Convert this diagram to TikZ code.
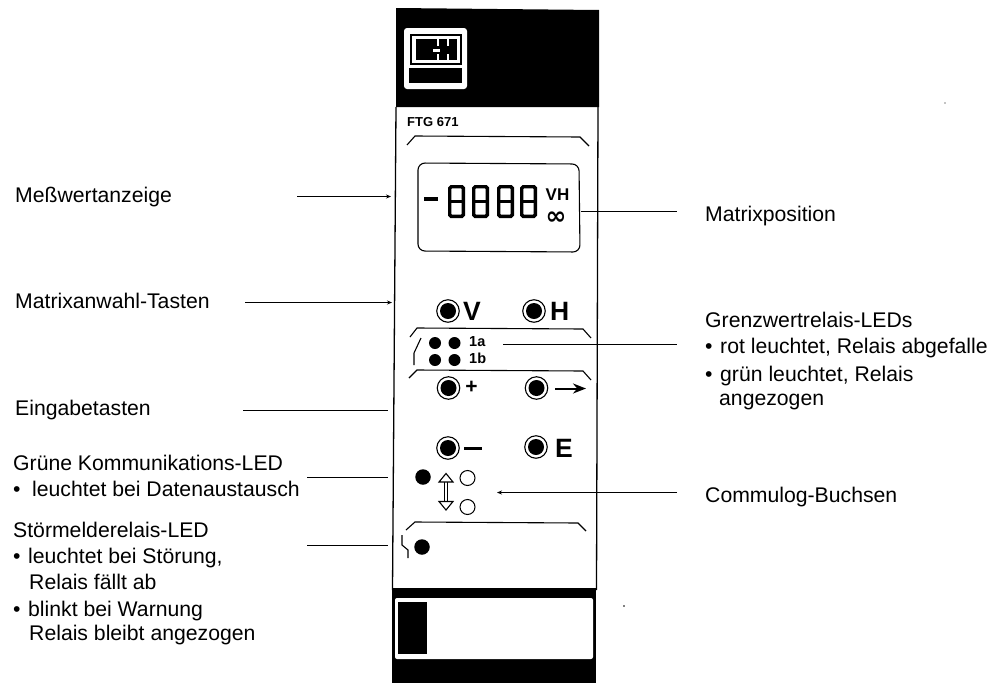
\documentclass[tikz,border=0pt]{standalone}
\usepackage{fontspec}
\setmainfont{Liberation Sans}
\usetikzlibrary{arrows.meta}
\newcommand{\bul}[1]{\makebox[#1pt][l]{\textbullet}}
\tikzset{
 lab/.style={anchor=base west,inner sep=0pt,font=\fontsize{21.2}{24}\selectfont},
 conn/.style={line width=1.2pt},
 arr/.style={line width=1.2pt,-{Stealth[length=5pt,width=4pt]}},
 btnring/.style={circle,draw,line width=1.1pt,fill=white,minimum size=22.5pt,inner sep=0pt},
 btncore/.style={circle,fill=black,minimum size=16pt,inner sep=0pt},
 led/.style={circle,fill=black,minimum size=12pt,inner sep=0pt},
 bigled/.style={circle,fill=black,minimum size=15.5pt,inner sep=0pt},
 hole/.style={circle,draw,line width=1pt,fill=white,minimum size=15pt,inner sep=0pt},
 bigmark/.style={inner sep=0pt,font=\bfseries\fontsize{26.5}{26.5}\selectfont},
 smallmark/.style={inner sep=0pt,font=\bfseries\fontsize{14.5}{14.5}\selectfont},
 bracket/.style={line width=1.1pt},
}
\begin{document}
\begin{tikzpicture}[x=1pt,y=-1pt]
\useasboundingbox (0,0) rectangle (993,683);
% housing
\fill[white] (0,0) rectangle (993,683);
\fill[black] (396,8) -- (599,10) -- (599,107) -- (396,107) -- cycle;
\draw[line width=1.3pt] (396,107) -- (392.5,590);
\draw[line width=1.3pt] (598,107) -- (596.5,590);
\fill[black] (392,588) rectangle (596,683);
\fill[white,rounded corners=2pt] (395,598) rectangle (593,659);
\fill[black] (398,602) rectangle (427,654);
% logo
\fill[white,rounded corners=3pt] (404,28) rectangle (467,89);
\fill[black] (410,34) rectangle (462,64.5);
\fill[white] (412,36) rectangle (460,62.5);
\fill[black] (416,39) rectangle (457,60);
\fill[white] (437,39) rectangle (438.5,46);
\fill[white] (437,54) rectangle (438.5,60);
\fill[white] (433,48.5) rectangle (440,51.5);
\fill[white] (447,39) rectangle (449,46);
\fill[white] (447,54) rectangle (449,60);
\fill[black] (409,68) rectangle (462,83);
% model
\node[anchor=base west,inner sep=0pt,font=\bfseries\fontsize{13}{13}\selectfont] (model) at (407,126.5) {FTG 671};
% brackets
\draw[bracket] (407,145) -- (415,136) -- (580,137) -- (589,146);
\draw[bracket] (410,337) -- (417,328) -- (583,329) -- (591,338);
\draw[bracket] (409,378) -- (417,370) -- (583,371) -- (591,380);
\draw[bracket] (406,530) -- (415,522) -- (578,523) -- (586,531);
\draw[bracket] (421,338) -- (414,353) -- (414,365);
% display
\draw[line width=1.1pt,rounded corners=7pt] (418,163) -- (579,164) -- (580,252) -- (418,251) -- cycle;
\draw[line width=3.6pt] (424,199) -- (438,199);
\foreach \x in {448,472,497,520}{
  \draw[line width=3.4pt,rounded corners=1.5pt] (\x+1.7,186.7) rectangle (\x+15.3,216.3);
  \draw[line width=3.4pt] (\x+1.7,201.5) -- (\x+15.3,201.5);
}
\node[inner sep=0pt,font=\bfseries\fontsize{17}{17}\selectfont,text height=12pt,text depth=0pt] (vh) at (557.5,194) {VH};
\node[inner sep=0pt,font=\bfseries\fontsize{25}{25}\selectfont,text height=12pt,text depth=0pt] (inf) at (556,218) {\fontspec{DejaVu Sans}∞};
% buttons
\foreach \n/\x/\y in {v/448/311,h/534/311,p/448.5/388,r/536.5/388,m/448/448,e/536/447}{
  \node[btnring] (ring\n) at (\x,\y) {};
  \node[btncore] (core\n) at (\x,\y) {};
}
\node[bigmark,anchor=west] (tv) at (463,311.5) {V};
\node[bigmark,anchor=west] (th) at (550,311.5) {H};
\node[inner sep=0pt,font=\bfseries\fontsize{21}{21}\selectfont] (tp) at (471.5,387.5) {+};
\fill[black] (464,447) rectangle (482,450);
\node[bigmark,anchor=west] (te) at (555,448) {E};
\draw[line width=2pt,-{Stealth[length=13pt,width=10pt]}] (555,388.5) -- (586,388.5);
% LEDs 1a 1b
\foreach \n/\x/\y in {a/435/343,b/454.5/343,c/435/360,d/454.5/360}{\node[led] (led\n) at (\x,\y) {};}
\node[smallmark,anchor=base west] (ta) at (469,346.7) {1a};
\node[smallmark,anchor=base west] (tb) at (469,363.5) {1b};
% comm
\node[bigled] (comm) at (423,477) {};
\node[hole] (h1) at (467.5,478) {};
\node[hole] (h2) at (467.5,507) {};
\draw[line width=1pt,double=white,double distance=2.5pt] (446,482) -- (446,501.5);
\filldraw[fill=white,draw=black,line width=1.1pt] (446,473.5) -- (453,482) -- (439,482) -- cycle;
\filldraw[fill=white,draw=black,line width=1.1pt] (446,510) -- (453,501.5) -- (439,501.5) -- cycle;
% fault
\node[bigled] (fault) at (422,547) {};
\draw[line width=1.1pt] (402,535) -- (402,545) -- (408,550) -- (408,558);
% labels
\node[lab] (l1) at (15,202) {Meßwertanzeige};
\node[lab] (l2) at (15,308) {Matrixanwahl-Tasten};
\node[lab] (l3) at (15,415) {Eingabetasten};
\node[lab] (l4) at (13,470) {Grüne Kommunikations-LED};
\node[lab] (l4b) at (13,496) {\bul{19}leuchtet bei Datenaustausch};
\node[lab] (l5) at (13,537) {Störmelderelais-LED};
\node[lab] (l5b) at (13,563) {\bul{15}leuchtet bei Störung,};
\node[lab] (l5c) at (29,589) {Relais fällt ab};
\node[lab] (l5d) at (13,616) {\bul{15}blinkt bei Warnung};
\node[lab] (l5e) at (29,640) {Relais bleibt angezogen};
\node[lab] (r1) at (705,221) {Matrixposition};
\node[lab] (r2) at (705,327) {Grenzwertrelais-LEDs};
\node[lab] (r2b) at (705,353) {\bul{15}rot leuchtet, Relais abgefalle};
\node[lab] (r2c) at (705,381) {\bul{15}grün leuchtet, Relais};
\node[lab] (r2d) at (719,405) {angezogen};
\node[lab] (r3) at (705,502) {Commulog-Buchsen};
% connectors
\coordinate (c1a) at (297,196.5); \coordinate (c1b) at (391,196.5);
\coordinate (c2a) at (245,302.5); \coordinate (c2b) at (392,302.5);
\coordinate (c3a) at (243,410.5); \coordinate (c3b) at (388,410.5);
\coordinate (c4a) at (307,477.5); \coordinate (c4b) at (388,477.5);
\coordinate (c5a) at (307,545.5); \coordinate (c5b) at (388,545.5);
\coordinate (c6a) at (581,211.5); \coordinate (c6b) at (677,211.5);
\coordinate (c7a) at (503,344.5); \coordinate (c7b) at (677,344.5);
\coordinate (c8a) at (677,492.5); \coordinate (c8b) at (497,492.5);
\draw[arr] (c1a) -- (c1b);
\draw[arr] (c2a) -- (c2b);
\draw[conn] (c3a) -- (c3b);
\draw[conn] (c4a) -- (c4b);
\draw[conn] (c5a) -- (c5b);
\draw[conn] (c6a) -- (c6b);
\draw[conn] (c7a) -- (c7b);
\draw[arr] (c8a) -- (c8b);
% specks
\fill (945,103) circle (.7pt);
\fill (624,606) circle (.8pt);
\end{tikzpicture}
\end{document}
